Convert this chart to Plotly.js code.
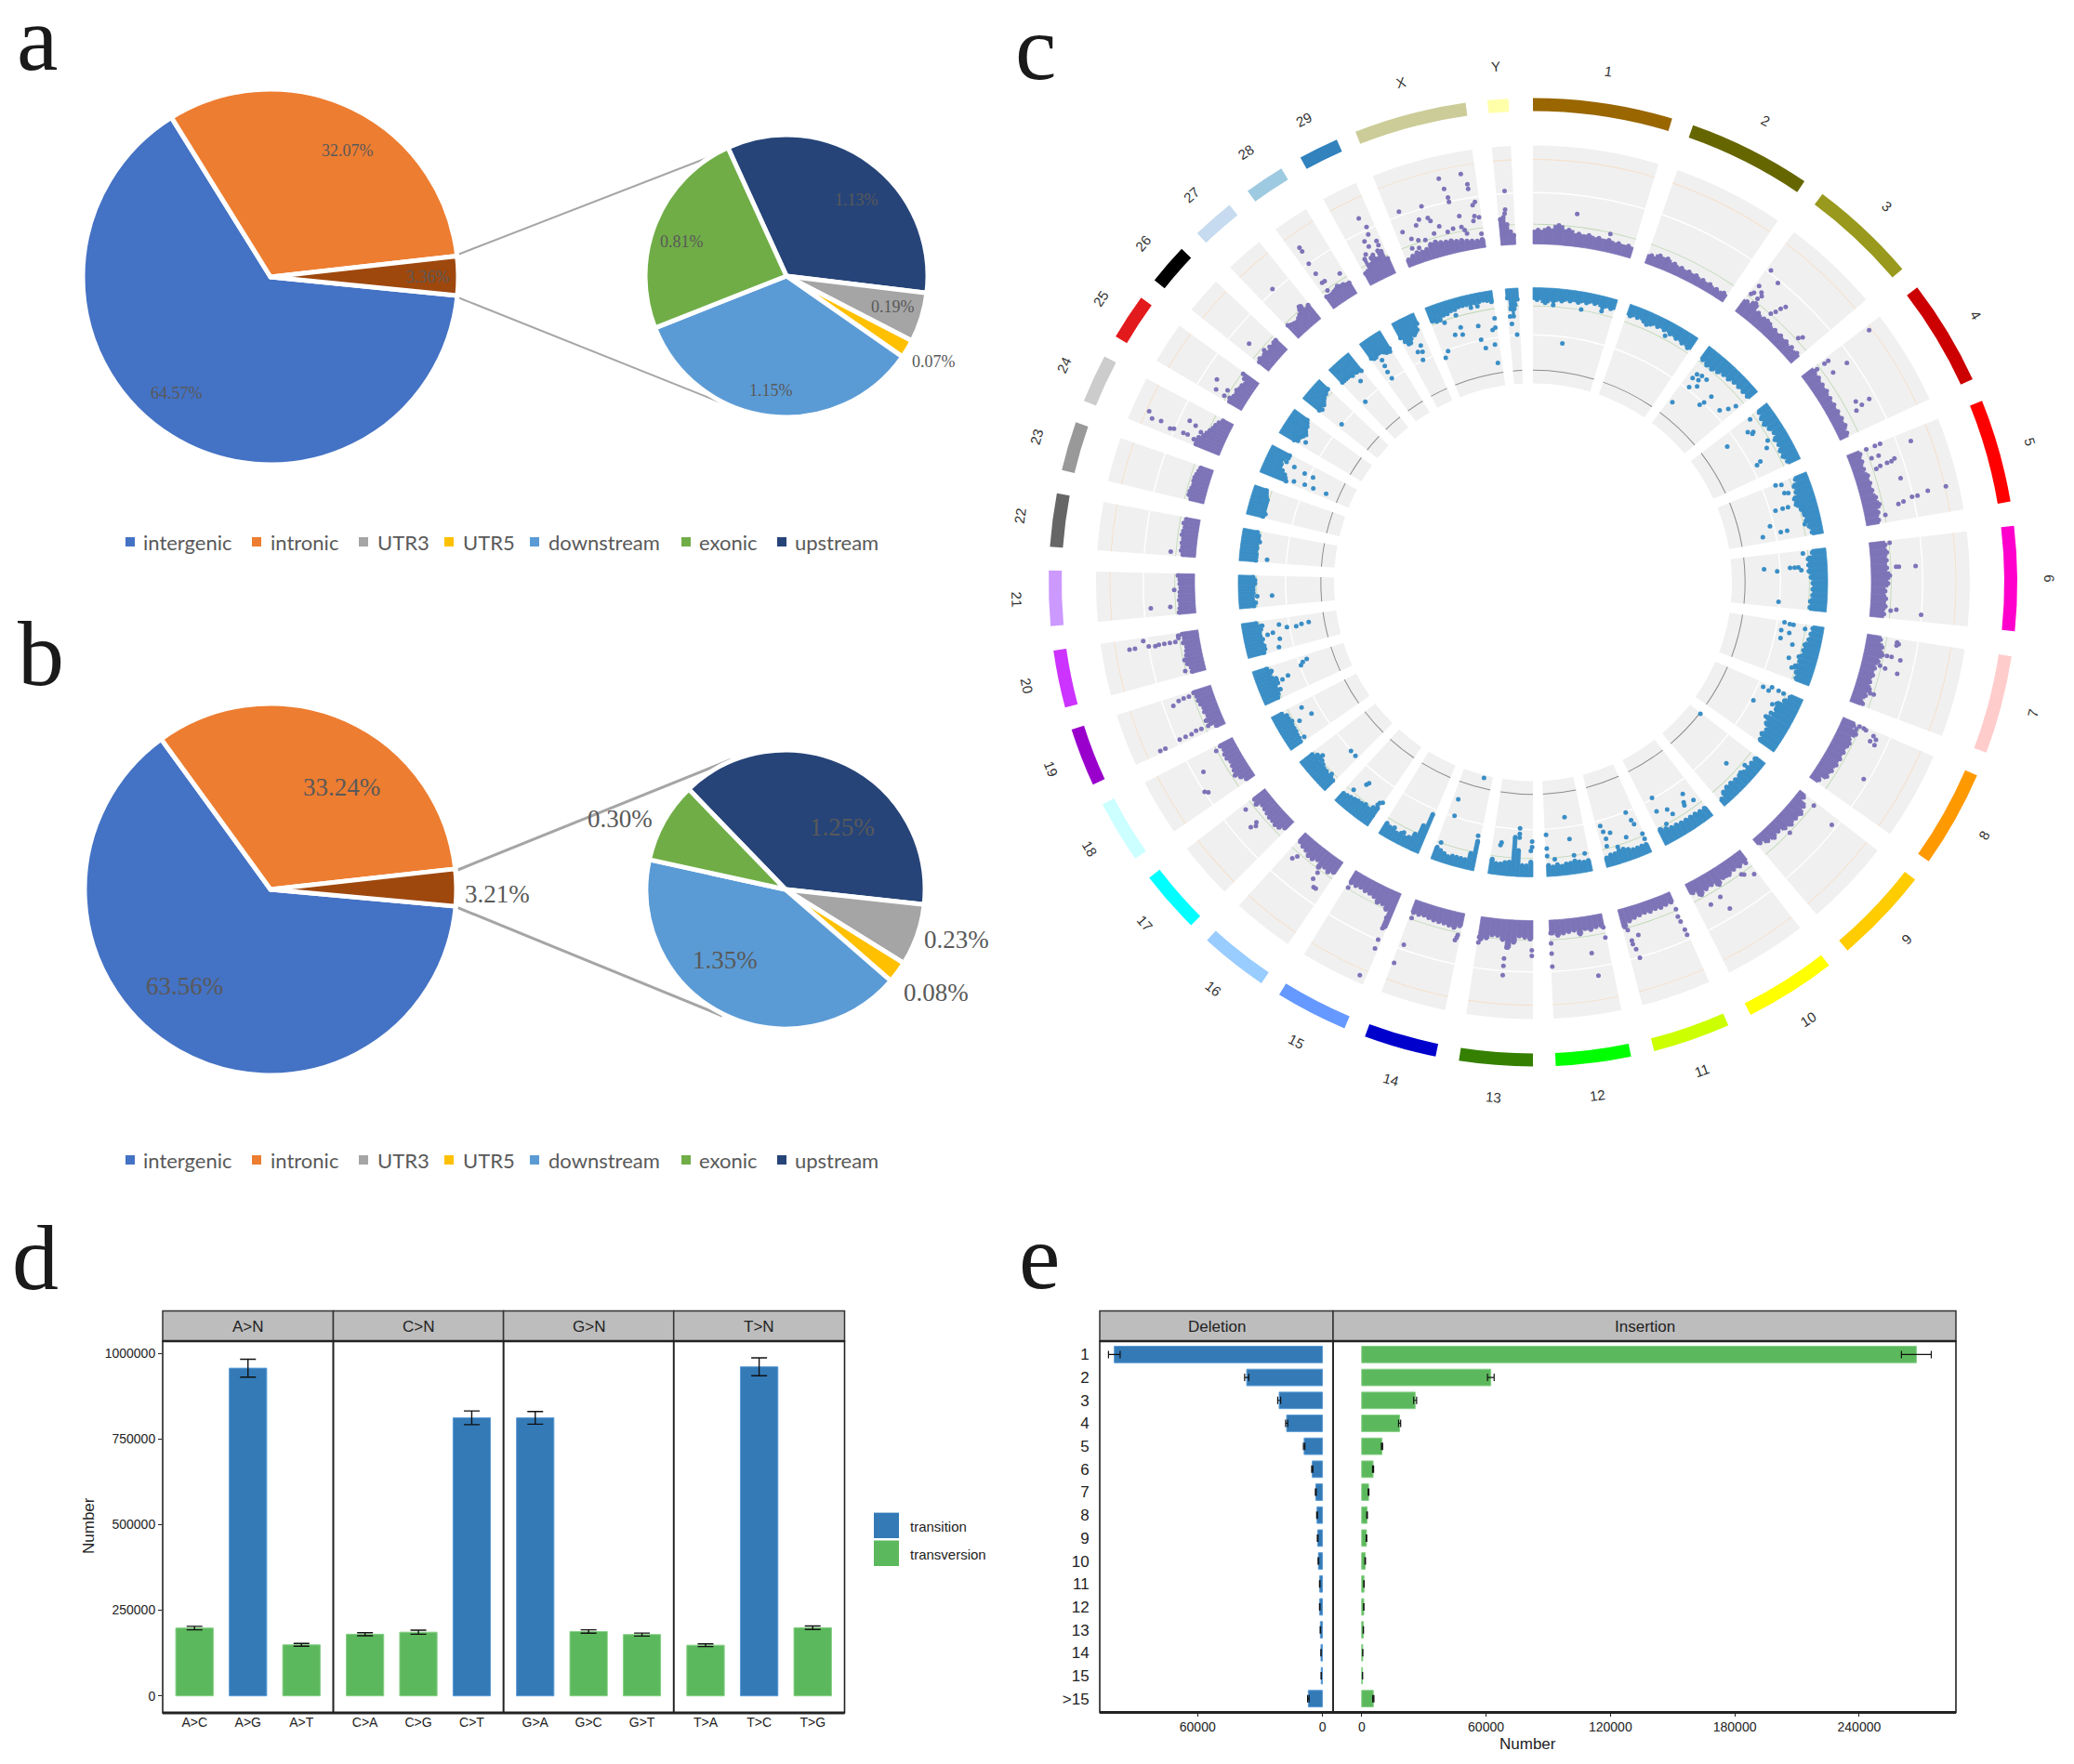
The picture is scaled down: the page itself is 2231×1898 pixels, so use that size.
<!DOCTYPE html>
<html><head><meta charset="utf-8">
<script src="https://cdn.plot.ly/plotly-3.0.1.min.js"></script>
<style>html,body{margin:0;padding:0;background:#fff}</style></head>
<body><div id="chart" style="width:2231px;height:1898px"></div>
<script>
// ---------- pies ----------
const legendLabels = ['intergenic','intronic','UTR3','UTR5','downstream','exonic','upstream'];
const pieMainLabels = ['intergenic','intronic','other'];
const pieAMain = [64.57,32.07,3.36];
const pieBMain = [63.56,33.24,3.21];
const pieSubLabels = ['upstream','UTR3','UTR5','downstream','exonic'];
const pieASub = [1.13,0.19,0.07,1.15,0.81];
const pieBSub = [1.25,0.23,0.08,1.35,0.30];
// ---------- bars d ----------
const dFacets = ['A>N','C>N','G>N','T>N'];
const dCats = [['A>C','A>G','A>T'],['C>A','C>G','C>T'],['G>A','G>C','G>T'],['T>A','T>C','T>G']];
const dVals = [[198000,957000,149000],[180000,186000,812000],[812000,188000,179000],[148000,961000,199000]];
const dErrs = [[5000,26000,4000],[4500,6000,20000],[18500,5000,4500],[4000,26000,5000]];
const dTypes = [['v','t','v'],['v','v','t'],['t','v','v'],['v','t','v']];
// ---------- bars e ----------
const eCats = ['1','2','3','4','5','6','7','8','9','10','11','12','13','14','15','>15'];
const deletionVals = [100000,36400,20800,17200,8800,4900,3200,2600,2300,1950,1300,1300,1000,700,600,6800];
const deletionErrs = [2800,1000,700,500,350,300,200,180,160,140,120,120,100,80,70,350];
const insertionVals = [267600,62300,25800,18300,9800,5500,3300,2600,2300,1700,1100,1000,800,500,400,5600];
const insertionErrs = [7200,1600,700,500,300,250,180,160,140,120,100,90,70,50,40,300];
// ---------- circos c ----------
const chrNames = ['1','2','3','4','5','6','7','8','9','10','11','12','13','14','15','16','17','18','19','20','21','22','23','24','25','26','27','28','29','X','Y'];
const chrStart = [0,19.3,36.7,52.5,68,83.3,98.8,113.5,127.9,142.3,156.2,168.3,180,191.6,202.9,214.1,224.9,235.2,245.3,255,264.8,274.2,283.4,292,300.5,308.6,316.1,323.9,331.3,338.5,354.6];
const chrEnd = [16.7,34.1,49.7,65.2,80.4,95.8,110.6,125.2,139.5,153.3,165.5,177.3,188.8,200.3,211.6,222.3,232.4,242.7,252.3,261.9,271.4,280.6,289.3,297.8,306,313.5,321.2,328.7,336.1,352,357.1];
const chrColors = ['#996600','#666600','#99991e','#cc0000','#ff0000','#ff00cc','#ffcccc','#ff9900','#ffcc00','#ffff00','#ccff00','#00ff00','#358000','#0000cc','#6699ff','#99ccff','#00ffff','#ccffff','#9900cc','#cc33ff','#cc99ff','#666666','#999999','#cccccc','#e31a1c','#000000','#c6dbef','#9ecae1','#3182bd','#cccc99','#ffffaa'];
// thickness of the dense point band along each chromosome (outer ring)
const outerBand = [
[15,17,21,17,14,14,13,13,12,12],[10,13,13,11,10,10,10,9,9,8,9],[16,20,14,13,13,12,12,12,11,12],[15,14,13,13,12,12,12,12,12,10],[14,13,12,14,14,14,16,18,15,14],
[17,18,17,17,20,18,15,16,16,15],[15,18,20,17,15,15,14,16,14,12],[14,20,16,17,17,17,17,16,15,10],[8,14,17,16,17,15,12,14,12,8],[13,14,13,15,14,18,14,15,18,12],
[11,11,12,11,12,11,12,13,15,20],[13,13,15,13,18,13,14,15,17,14],[20,18,17,24,30,22,18,18,22,24],[14,17,16,15,15,15,14,13,14,14],[40,22,18,19,15,14,14,13,14,14],
[15,18,16,20,14,17,17,14,13,11],[12,16,17,16,16,15,14,13,18,16],[10,14,18,16,15,14,16,16,14,16],[10,15,18,14,16,15,17,18,18,20],[15,15,18,20,17,16,15,18,16,18],
[18,17,16,17,16,16,15,16,16,18],[14,16,15,16,15,17,16,15,17,15],[15,18,18,17,16,17,17,16,15,14],[28,32,28,24,22,20,18,17,15,12],[16,18,15,14,16,14,14,12,16,20],
[14,16,14,15,14,13,16,14,16,16],[18,16,15,14,16,18,22,24,18,20],[15,14,14,15,16,18,16,16,14,14],[14,15,28,20,26,24,22,30,28,18],[8,10,12,11,12,16,17,15,14,14,12,12,10,9,8,9],[28,30,22,14,10]];
// isolated points of the outer ring: [position along chromosome, height]
const outerPoints = [
[[.41,35],[.75,20]],[],
[[.05,58],[.2,52],[.05,37],[.05,28],[.03,25],[.12,33],[.15,30],[.12,18],[.13,25],[.45,38],[.42,33],[.4,27],[.37,22],[.4,14],[.85,28],[.82,24],[.85,12]],
[[.05,88],[.05,33],[.05,28],[.05,18],[.03,10],[.2,48],[.2,30],[.65,34],[.7,48],[.72,38],[.75,30]],
[[.02,38],[.02,32],[.02,22],[.12,70],[.15,32],[.15,24],[.25,47],[.27,43],[.27,38],[.28,30],[.3,25],[.5,47],[.72,92],[.72,72],[.75,60],[.75,54],[.78,44],[.8,38],[.9,22]],
[[.03,22],[.34,48],[.34,30],[.34,27],[.9,22],[.88,28],[.92,55]],
[[.07,35],[.05,33],[.09,33],[.25,25],[.25,30],[.27,40],[.4,20],[.42,26],[.45,40],[.78,10],[.8,18],[.8,22],[.95,8],[.97,14]],
[[.03,20],[.03,25],[.04,28],[.07,38],[.1,42],[.15,37],[.17,43],[.08,18],[.3,18],[.55,14],[.62,50]],
[[.05,22],[.1,50],[.15,12],[.3,14],[.55,22],[.5,12]],
[[.05,15],[.05,30],[.17,24],[.2,22],[.4,14],[.8,32],[.63,30],[.6,46]],
[[.92,24],[.9,36],[.9,40],[.87,46],[.85,56],[.77,32],[.45,10],[.25,10],[.02,20],[.04,28],[.03,34],[.02,44],[.02,50]],
[[.98,14],[.98,25],[.98,36],[.98,50],[.3,40],[.25,65],[.02,15],[.02,26],[.33,12]],
[[.5,60],[.5,50],[.5,42],[.47,30],[.02,38],[.98,22],[.02,32],[.98,28]],
[[.92,50],[.97,72],[.95,20],[.08,30],[.05,24],[.06,27]],
[[.08,30],[.07,42],[.06,55],[.05,65],[.1,98],[.95,20]],
[[.8,25],[.85,30],[.3,25],[.3,33],[.15,40],[.2,40]],
[[.9,30],[.55,30],[.5,33],[.55,38],[.45,10]],
[[.9,22],[.65,45],[.3,55],[.25,52]],
[[.12,18],[.12,26],[.13,32],[.1,38],[.1,45],[.1,52],[.05,70],[.05,76],[.82,45],[.88,38],[.9,32],[.9,26]],
[[.93,60],[.8,70],[.8,76],[.8,55],[.78,48],[.8,44],[.8,38],[.8,32],[.8,26],[.93,22],[.88,22],[.1,22],[.45,14]],
[[.2,48],[.2,27],[.6,22]],[[.1,27]],[[.15,10],[.35,6]],
[[.35,88],[.22,82],[.25,72],[.17,60],[.2,56],[.2,45],[.2,40],[.55,44],[.5,36],[.4,28],[.4,20],[.35,14]],
[[.4,40],[.3,24],[.15,35],[.12,24]],[[.3,35],[.45,18]],[[.45,58],[.7,25],[.6,10]],
[[.25,75],[.25,70],[.2,55],[.2,42],[.2,30],[.3,30],[.2,20],[.85,28]],
[[.65,70],[.75,58],[.7,50],[.5,45],[.85,40],[.55,38],[.35,32],[.85,35],[.55,28]],
[[.85,82],[.62,82],[.9,70],[.9,65],[.65,70],[.67,60],[.67,55],[.95,50],[.92,47],[.12,60],[.37,58],[.92,35],[.97,33],[.9,30],[.08,38],[.3,45],[.25,40],[.4,44],[.42,40],[.5,32],[.75,38],[.75,26],[.78,22],[.15,28],[.22,24],[.3,22],[.42,26],[.58,24],[.65,26],[.8,18],[.97,15],[.12,18],[.2,16]],
[[.5,58],[.4,34],[.45,38]]];
// thickness of the dense band and isolated points of the inner ring
const innerBand = [
[13,16,14,13,12,12,11,10,12,11],[12,11,12,12,11,11,12,13,14,15],[16,18,18,16,14,14,12,12,12,12],[13,15,16,14,12,15,14,16,16,14],[14,18,18,22,22,18,16,16,14,12],
[15,20,20,20,18,16,16,16,18,18],[12,13,14,17,17,17,18,20,18,16],[14,18,24,22,22,26,24,20,22,20],[12,12,12,12,13,13,14,14,12,8],[12,12,13,13,13,13,14,14,16,18],
[10,10,10,10,12,14,14,12,12,10],[12,11,12,14,12,12,10,12,10,12],[16,12,12,28,42,15,14,12,12,16],[32,18,10,10,10,10,8,10,12,14],[45,30,18,12,10,12,10,14,12,14],
[22,20,16,18,16,16,15,14,13,12],[14,15,14,16,16,18,16,24,20,16],[14,15,15,16,16,16,18,16,16,12],[16,18,22,18,22,22,18,16,18,16],[18,20,20,18,20,18,18,20,22,16],
[16,18,15,15,16,16,16,18,18,16],[18,18,18,17,18,17,20,18,18,16],[18,20,18,18,18,18,18,16,15,14],[30,28,26,22,18,18,16,18,22,22],[18,20,22,24,26,24,22,22,20,18],
[22,24,20,22,20,18,16,16,14,14],[20,20,20,20,20,22,20,22,22,24],[20,22,22,20,20,20,22,24,24,22],[18,24,28,26,24,20,22,20,18,12],[16,18,16,14,14,12,12,10,10,10,10,10,10,9,10,12],[10,22,30,18,12]];
const innerPoints = [
[[.42,58],[.25,18],[.6,19],[.85,16]],[[.3,14],[.6,16]],
[[.2,30],[.12,32],[.1,38],[.3,30],[.2,36],[.25,42],[.15,48],[.08,72],[.55,40],[.5,55],[.53,50],[.9,36],[.95,28],[.82,44]],
[[.05,25],[.2,35],[.2,62],[.25,30],[.27,32],[.5,22],[.6,27],[.55,12],[.75,40],[.78,45]],
[[.02,36],[.05,30],[.22,26],[.2,30],[.25,12],[.45,45],[.45,37],[.45,31],[.42,21],[.52,18],[.62,16],[.62,10],[.7,55],[.88,65],[.8,18],[.85,45],[.85,38]],
[[.05,25],[.28,68],[.33,54],[.28,40],[.28,35],[.28,31],[.33,28],[.9,52]],
[[.02,43],[.04,37],[.04,33],[.08,20],[.18,45],[.2,36],[.33,44],[.4,30],[.58,20],[.65,30],[.75,21],[.78,21],[.8,24]],
[[.08,45],[.1,38],[.02,36],[.03,28],[.04,22],[.06,14],[.4,48],[.3,28],[.32,22],[.45,25],[.55,28]],
[[.02,88],[.45,32],[.25,16],[.4,14],[.85,12]],
[[.22,38],[.12,26],[.3,30],[.32,27],[.8,52],[.65,33],[.85,37],[.6,26],[.8,20],[.2,10]],
[[.2,50],[.15,40],[.12,35],[.03,22],[.03,16],[.9,45],[.87,38],[.85,30],[.72,35],[.4,25],[.65,18],[.88,22]],
[[.97,45],[.4,38],[.97,30],[.97,22],[.45,62],[.8,18],[.35,20],[.1,20]],
[[.34,52],[.34,46],[.34,42],[.8,32],[.78,35],[.02,32],[.02,38],[.05,28]],
[[.05,32],[.07,38],[.9,20],[.8,52],[.28,100],[.85,70]],
[[.15,8],[.5,14]],
[[.02,30],[.08,20],[.08,28],[.1,25],[.62,38],[.65,35],[.82,22],[.6,15],[.05,12]],
[[.3,50],[.1,50],[.1,12],[.2,18],[.3,14],[.4,12],[.65,20],[.75,16],[.75,10],[.7,8]],
[[.85,34],[.55,40],[.55,25],[.1,20]],
[[.85,20],[.8,18],[.55,16],[.6,22],[.8,6],[.8,55],[.85,60],[.72,52],[.55,35],[.5,28],[.45,20],[.42,14],[.35,10],[.15,12]],
[[.72,72],[.7,64],[.65,58],[.68,48],[.8,40],[.58,32],[.55,26],[.35,38],[.1,35]],
[[.88,14],[.6,10],[.35,20],[.35,36]],[[.1,30],[.7,8]],[[.7,10],[.5,12]],
[[.7,22],[.65,32],[.6,45],[.6,55],[.15,38],[.2,50],[.2,60],[.2,75]],
[[.6,10],[.25,15],[.2,30],[.1,22]],[[.35,22],[.2,50]],[[.7,20],[.65,32],[.2,52],[.25,8]],
[[.4,18],[.4,28],[.35,35],[.3,42],[.3,50],[.9,25]],[[.45,40],[.7,35],[.65,42],[.5,50],[.35,28]],
[[.02,58],[.1,52],[.75,60],[.7,50],[.92,58],[.92,78],[.3,38],[.42,40],[.7,35],[.42,32],[.98,30],[.4,18],[.2,22],[.15,18],[.65,14],[.15,8],[.05,15],[.75,14],[.92,42],[.97,40]],
[[.2,30],[.6,22],[.3,38],[.7,50]]];

// ---------- page geometry (layout only) ----------
const W=2231,H=1898;
const px=x=>x/W, py=y=>1-y/H;
const serif='Liberation Serif', sans='Liberation Sans', cal='Lato';
const C={intergenic:'#4472c4',intronic:'#ed7d31',UTR3:'#a5a5a5',UTR5:'#ffc000',downstream:'#5b9bd5',exonic:'#70ad47',upstream:'#264478',other:'#9e480e',t:'#337ab7',v:'#5cb85c'};
const EDGE={t:'#5b9bd5',v:'#86cf86'};
const traces=[],shapes=[],annos=[];
const txt=(x,y,t,size,color,fam,extra)=>annos.push(Object.assign({xref:'paper',yref:'paper',x:px(x),y:py(y),text:t,showarrow:false,xanchor:'center',yanchor:'middle',font:{size,color:color||'#222',family:fam||sans}},extra||{}));
const pie=(cx,cy,r,labels,values,rotation,lw)=>traces.push({type:'pie',labels,values,sort:false,direction:'clockwise',rotation,textinfo:'none',hoverinfo:'skip',showlegend:false,
  marker:{colors:labels.map(l=>C[l]),line:{color:'#fff',width:lw}},domain:{x:[px(cx-r),px(cx+r)],y:[py(cy+r),py(cy-r)]}});
pie(291,298,202,pieMainLabels,pieAMain,95.7,5);
pie(846,297,152,pieSubLabels,pieASub,-24.5,5);
pie(291,957,200,pieMainLabels,pieBMain,95.2,5);
pie(845,957,150,pieSubLabels,pieBSub,-44,5);
const line=(x0,y0,x1,y1,c,w)=>shapes.push({type:'line',xref:'paper',yref:'paper',x0:px(x0),y0:py(y0),x1:px(x1),y1:py(y1),line:{color:c,width:w},layer:'below'});
line(491,274.5,781,162,'#a5a5a5',2);line(490,319,774,432.5,'#a5a5a5',2);
line(492.5,936,786,817.5,'#a5a5a5',3);line(492.5,976.6,777,1093,'#a5a5a5',3);
const f1=18,f2=27,tc='#595959';
[['32.07%',374,162],['64.57%',190,423],['3.36%',460,298],['1.13%',921,214.5],['0.81%',733.5,260],['0.19%',960,330],['0.07%',1004,389],['1.15%',829,420]].forEach(a=>txt(a[1],a[2],a[0],f1,tc,serif));
[['33.24%',367,847],['63.56%',198,1061],['3.21%',534.5,962],['0.30%',667,881],['1.25%',906,890],['0.23%',1029,1011],['0.08%',1007,1068],['1.35%',780,1032.5]].forEach(a=>txt(a[1],a[2],a[0],f2,tc,serif));
const legX=[140,276,391,483,575,738,841], legT=[152,289,404,495.5,588,750,853];
[583,1248].forEach(y=>legendLabels.forEach((l,i)=>{
  shapes.push({type:'rect',xref:'paper',yref:'paper',x0:px(legX[i]-5),x1:px(legX[i]+5),y0:py(y+5),y1:py(y-5),fillcolor:C[l],line:{width:0}});
  txt(legT[i],y,l,22,'#595959',cal,{xanchor:'left'});
}));
[['a',40,71],['b',44,733],['c',1114,81],['d',38,1383],['e',1118,1382]].forEach(a=>txt(a[1],a[2]+28,a[0],100,'#1a1a1a',serif,{yanchor:'bottom'}));

// ---------- d ----------
const dEdges=[175,358.5,541.6,724.7,908.5];
const ax={};
const frame=(x0,x1,y0,y1)=>{
  shapes.push({type:'rect',xref:'paper',yref:'paper',x0:px(x0),x1:px(x1),y0:py(y1),y1:py(y0),fillcolor:'rgba(0,0,0,0)',line:{color:'#222',width:1.6}});
  shapes.push({type:'line',xref:'paper',yref:'paper',x0:px(x0),x1:px(x1),y0:py(y1),y1:py(y1),line:{color:'#222',width:3}});
  shapes.push({type:'line',xref:'paper',yref:'paper',x0:px(x0),x1:px(x1),y0:py(y0),y1:py(y0),line:{color:'#222',width:2.5}});
};
dFacets.forEach((f,i)=>{
  const k=i?String(i+1):'';
  ax['xaxis'+k]={domain:[px(dEdges[i]),px(dEdges[i+1])],anchor:'y',type:'category',range:[-0.595,2.595],categoryorder:'array',categoryarray:dCats[i],
    showline:false,ticks:'',tickfont:{size:14,color:'#222',family:sans},showgrid:false,zeroline:false};
  traces.push({type:'bar',x:dCats[i],y:dVals[i],xaxis:'x'+k,yaxis:'y',width:0.7,showlegend:false,hoverinfo:'skip',
    marker:{color:dTypes[i].map(t=>C[t]),line:{color:dTypes[i].map(t=>EDGE[t]),width:1}},error_y:{type:'data',array:dErrs[i],visible:true,color:'#111',thickness:1.4,width:8.5}});
  shapes.push({type:'rect',xref:'paper',yref:'paper',x0:px(dEdges[i]),x1:px(dEdges[i+1]),y0:py(1443),y1:py(1410.5),fillcolor:'#bdbdbd',line:{color:'#333',width:1.5}});
  frame(dEdges[i],dEdges[i+1],1443,1843);
  txt((dEdges[i]+dEdges[i+1])/2,1427,f,17);
});
ax.yaxis={domain:[py(1843),py(1443)],anchor:'x',range:[-49700,1036000],tickvals:[0,250000,500000,750000,1000000],ticktext:['0','250000','500000','750000','1000000'],
  showgrid:false,zeroline:false,ticks:'outside',ticklen:4,tickcolor:'#222',tickfont:{size:14,color:'#222',family:sans},showline:false};
txt(95,1642,'Number',17,'#222',sans,{textangle:-90});
[[1627.6,1655,'transition','t'],[1657.5,1685,'transversion','v']].forEach(a=>{
  shapes.push({type:'rect',xref:'paper',yref:'paper',x0:px(940),x1:px(967),y0:py(a[1]),y1:py(a[0]),fillcolor:C[a[3]],line:{width:0}});
  txt(977,(a[0]+a[1])/2+1,a[2],15,'#222',sans,{xanchor:'left'});
});

// ---------- e ----------
ax.xaxis5={domain:[px(1183),px(1434)],anchor:'y2',range:[107000,-5100],tickvals:[0,60000],ticktext:['0','60000'],showline:false,
  ticks:'outside',ticklen:3,tickcolor:'#222',tickfont:{size:14,color:'#222',family:sans},showgrid:false,zeroline:false};
ax.xaxis6={domain:[px(1434),px(2104)],anchor:'y2',range:[-13800,286700],tickvals:[0,60000,120000,180000,240000],ticktext:['0','60000','120000','180000','240000'],showline:false,
  ticks:'outside',ticklen:3,tickcolor:'#222',tickfont:{size:14,color:'#222',family:sans},showgrid:false,zeroline:false};
ax.yaxis2={domain:[py(1842.5),py(1443)],anchor:'x5',type:'category',categoryorder:'array',categoryarray:eCats,range:[15.6,-0.583],ticks:'outside',ticklen:7,tickcolor:'rgba(0,0,0,0)',tickfont:{size:17,color:'#222',family:sans},showgrid:false,zeroline:false,showline:false};
traces.push({type:'bar',orientation:'h',y:eCats,x:deletionVals,xaxis:'x5',yaxis:'y2',width:0.72,showlegend:false,hoverinfo:'skip',marker:{color:C.t,line:{color:EDGE.t,width:1}},error_x:{type:'data',array:deletionErrs,visible:true,color:'#111',thickness:1.2,width:4}});
traces.push({type:'bar',orientation:'h',y:eCats,x:insertionVals,xaxis:'x6',yaxis:'y2',width:0.72,showlegend:false,hoverinfo:'skip',marker:{color:C.v,line:{color:EDGE.v,width:1}},error_x:{type:'data',array:insertionErrs,visible:true,color:'#111',thickness:1.2,width:4}});
[[1183,1434,'Deletion'],[1434,2104,'Insertion']].forEach(a=>{
  shapes.push({type:'rect',xref:'paper',yref:'paper',x0:px(a[0]),x1:px(a[1]),y0:py(1443),y1:py(1410.5),fillcolor:'#bdbdbd',line:{color:'#333',width:1.5}});
  frame(a[0],a[1],1443,1842.5);
  txt((a[0]+a[1])/2,1427,a[2],17);
});
txt(1643,1876,'Number',17);

// ---------- c ----------
const cx=1649,cy=626.5,R=540;
const span=i=>chrEnd[i]-chrStart[i], mid=i=>(chrEnd[i]+chrStart[i])/2;
const idx=chrNames.map((_,i)=>i);
const arcs=(base,thick,colors)=>traces.push({type:'barpolar',subplot:'polar',theta:idx.map(mid),width:idx.map(span),base:idx.map(()=>base),r:idx.map(()=>thick),
  marker:{color:colors,line:{width:0}},showlegend:false,hoverinfo:'skip'});
arcs(507,14,chrColors);
arcs(364,106,'#f0f0f0'); arcs(214,103,'#f0f0f0');
arcs(418.6,1.4,'#ffffff'); arcs(454.6,0.9,'#f6dfc8'); arcs(385,0.8,'#bcd6b0');
arcs(265.5,1.4,'#ffffff'); arcs(227.7,1,'#8c8c8c'); arcs(297,0.8,'#bcd6b0');
function band(env,pts,color,base,sign){
  const th=[],w=[],r=[],b=[],pth=[],pr=[];
  env.forEach((e,i)=>{const n=e.length,s=span(i)/n;
    e.forEach((h,j)=>{const t=chrStart[i]+s*(j+.5);th.push(t);w.push(s);
      r.push(h);b.push(sign>0?base:base-h);pth.push(t);pr.push(base+sign*h);});
    pts[i].forEach(p=>{pth.push(chrStart[i]+p[0]*span(i));pr.push(base+sign*p[1]);});
  });
  traces.push({type:'barpolar',subplot:'polar',theta:th,width:w,base:b,r,marker:{color,line:{color,width:0.7}},showlegend:false,hoverinfo:'skip'});
  traces.push({type:'scatterpolar',subplot:'polar',theta:pth,r:pr,mode:'markers',marker:{color,size:5,line:{width:0}},showlegend:false,hoverinfo:'skip',cliponaxis:false});
}
band(outerBand,outerPoints,'#7d74b8',364,1);
band(innerBand,innerPoints,'#3a8ec6',317,-1);
idx.forEach(i=>{
  const t=mid(i),a=t*Math.PI/180,rot=(t>90&&t<270)?t-180:t;
  txt(cx+556*Math.sin(a),cy-556*Math.cos(a),chrNames[i],15,'#333',sans,{textangle:rot});
});

const layout=Object.assign({width:W,height:H,margin:{l:0,r:0,t:0,b:0},paper_bgcolor:'#fff',plot_bgcolor:'rgba(0,0,0,0)',showlegend:false,shapes,annotations:annos,barmode:'overlay',
  polar:{domain:{x:[px(cx-R),px(cx+R)],y:[py(cy+R),py(cy-R)]},bgcolor:'rgba(0,0,0,0)',barmode:'overlay',sector:[0,360],
    angularaxis:{visible:false,direction:'clockwise',rotation:90,thetaunit:'degrees'},radialaxis:{visible:false,range:[0,R]}}},ax);
Plotly.newPlot('chart',traces,layout,{displayModeBar:false,staticPlot:true});
</script></body></html>
